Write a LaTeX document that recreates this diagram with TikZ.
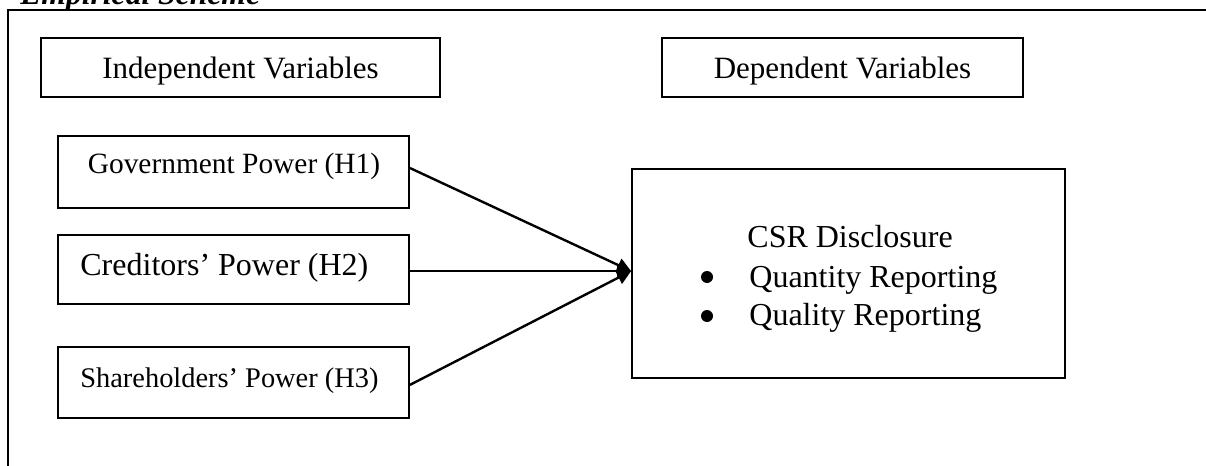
\documentclass[tikz,border=0pt]{standalone}
\usepackage{fontspec}
\setmainfont{Liberation Serif}
\usetikzlibrary{arrows.meta}

\tikzset{
  frameline/.style={line width=1.1pt, line cap=rect},
  varbox/.style 2 args={draw, line width=0.9pt, rectangle, inner sep=0pt,
    minimum width=#1*0.5pt, minimum height=#2*0.5pt},
  lbl/.style={inner sep=0pt, anchor=base},
  lblw/.style={inner sep=0pt, anchor=base west},
  link/.style={line width=1.2pt, -{Triangle[length=7pt,width=7pt]}},
  dot/.style={circle, fill, inner sep=0pt, minimum size=6pt}
}

\begin{document}
\begin{tikzpicture}[x=0.5pt, y=-0.5pt]
  \useasboundingbox (0,0) rectangle (1206,466);
  \clip (0,0) rectangle (1206,466);

  % heading above the frame (cut by the page edge)
  \node[lblw, font=\fontsize{15.8}{18}\selectfont\bfseries\itshape] (title) at (20,4) {Empirical Scheme};

  % outer frame
  \draw[frameline] (8,480) -- (8,10) -- (1220,10);

  % column headings
  \node[varbox={399}{59}] (indep) at (240.5,67.5) {};
  \node[lbl, font=\fontsize{15.5}{18}\selectfont] (indeptxt) at (240.5,78) {Independent Variables};
  \node[varbox={361}{59}] (dep) at (842.5,67.5) {};
  \node[lbl, font=\fontsize{15.5}{18}\selectfont] (deptxt) at (842.5,78) {Dependent Variables};

  % independent variables
  \node[varbox={351}{72}] (gov) at (233.5,172) {};
  \node[lbl, font=\fontsize{14.7}{17}\selectfont] (govtxt) at (234,173) {Government Power (H1)};
  \node[varbox={351}{69}] (cred) at (233.5,269.5) {};
  \node[lblw, font=\fontsize{16}{19}\selectfont] (credtxt) at (80,275) {Creditors’ Power (H2)};
  \node[varbox={351}{71}] (share) at (233.5,382.5) {};
  \node[lblw, font=\fontsize{14.2}{17}\selectfont] (sharetxt) at (80,387) {Shareholders’ Power (H3)};

  % dependent variable
  \node[varbox={433}{209}] (csr) at (848.5,273.5) {};
  \node[lblw, font=\fontsize{16}{19}\selectfont] (csrtxt) at (747,247) {CSR Disclosure};
  \node[dot] (b1) at (707,277) {};
  \node[lblw, font=\fontsize{16}{19}\selectfont] (qty) at (749,287) {Quantity Reporting};
  \node[dot] (b2) at (707,316) {};
  \node[lblw, font=\fontsize{16}{19}\selectfont] (qly) at (749,325) {Quality Reporting};

  % common arrow tip on the left side of the CSR box
  \coordinate (tip) at ([yshift=1.2pt]csr.west);

  % hypotheses
  \draw[link] ([yshift=2pt]gov.east) -- (tip);
  \draw[link] (cred.east |- tip) -- (tip);
  \draw[link] ([yshift=-1.2pt]share.east) -- (tip);
\end{tikzpicture}
\end{document}
